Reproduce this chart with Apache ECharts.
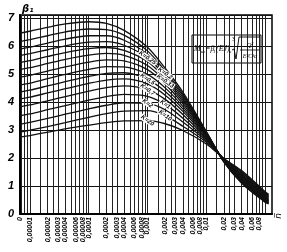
<!DOCTYPE html>
<html>
<head>
<meta charset="utf-8">
<script src="https://cdn.jsdelivr.net/npm/echarts@6/dist/echarts.min.js"></script>
<style>html,body{margin:0;padding:0;background:#fff}#main{width:287px;height:252px}</style>
</head>
<body>
<div id="main"></div>
<script>
// abscissa n (log scale), the left edge stands for 0
var xs = [6.77e-6, 1e-5, 2e-5, 4e-5, 1e-4, 2e-4, 4e-4, 1e-3, 2e-3, 4e-3, 1e-2, 2e-2, 4e-2, 1e-1, 0.115];

// beta1 curves, one per K
var b01  = [6.45, 6.52, 6.66, 6.78, 6.86, 6.8, 6.55, 5.95, 5.2, 4.35, 2.95, 1.85, 1.1, 0.42, 0.36];
var b015 = [6.15, 6.22, 6.36, 6.5, 6.6, 6.58, 6.38, 5.82, 5.1, 4.28, 2.93, 1.86, 1.13, 0.45, 0.38];
var b02  = [5.88, 5.95, 6.1, 6.24, 6.36, 6.36, 6.2, 5.7, 5.02, 4.22, 2.91, 1.87, 1.16, 0.47, 0.4];
var b025 = [5.65, 5.72, 5.86, 6.0, 6.13, 6.15, 6.02, 5.57, 4.93, 4.15, 2.89, 1.88, 1.19, 0.5, 0.42];
var b03  = [5.4, 5.47, 5.62, 5.76, 5.9, 5.94, 5.84, 5.44, 4.84, 4.08, 2.87, 1.89, 1.22, 0.52, 0.44];
var b033 = [5.15, 5.22, 5.37, 5.52, 5.67, 5.73, 5.66, 5.3, 4.74, 4.01, 2.85, 1.9, 1.25, 0.55, 0.46];
var b04  = [4.88, 4.95, 5.1, 5.25, 5.42, 5.5, 5.46, 5.15, 4.63, 3.93, 2.83, 1.91, 1.28, 0.57, 0.48];
var b045 = [4.6, 4.67, 4.83, 4.98, 5.16, 5.26, 5.25, 4.98, 4.5, 3.84, 2.8, 1.92, 1.31, 0.6, 0.5];
var b05  = [4.35, 4.42, 4.57, 4.72, 4.91, 5.02, 5.04, 4.81, 4.37, 3.75, 2.77, 1.93, 1.34, 0.62, 0.53];
var b06  = [4.1, 4.17, 4.32, 4.47, 4.66, 4.78, 4.82, 4.64, 4.24, 3.66, 2.74, 1.94, 1.37, 0.65, 0.56];
var b07  = [3.82, 3.89, 4.04, 4.19, 4.38, 4.51, 4.57, 4.44, 4.09, 3.55, 2.7, 1.95, 1.4, 0.68, 0.59];
var b1   = [3.5, 3.57, 3.72, 3.87, 4.06, 4.19, 4.27, 4.2, 3.91, 3.42, 2.66, 1.96, 1.44, 0.71, 0.62];
var b2   = [3.2, 3.27, 3.41, 3.56, 3.75, 3.88, 3.97, 3.95, 3.72, 3.28, 2.61, 1.97, 1.48, 0.74, 0.65];
var b10  = [2.92, 2.99, 3.12, 3.26, 3.45, 3.58, 3.67, 3.69, 3.51, 3.13, 2.56, 1.97, 1.51, 0.77, 0.67];
var b20  = [2.75, 2.8, 2.92, 3.04, 3.17, 3.26, 3.32, 3.33, 3.22, 2.98, 2.5, 1.98, 1.55, 0.8, 0.7];

// curve captions (empty = no caption) and the point of the curve they sit on
var curveVals = [b01, b015, b02, b025, b03, b033, b04, b045, b05, b06, b07, b1, b2, b10, b20];
var curveTags = ['', '', '0,2', '0,25', '', '0,33', '', '', '0,5', '', '0,7', '1', '2', '10', '20'];
var tagAt     = [0, 0, 8, 7, 0, 8, 0, 0, 7, 0, 7, 8, 7, 8, 7];

// tick labels
var tickVals = [6.77e-6, 1e-5, 2e-5, 3e-5, 4e-5, 6e-5, 8e-5, 1e-4, 2e-4, 3e-4, 4e-4, 6e-4, 8e-4,
  1e-3, 2e-3, 3e-3, 4e-3, 6e-3, 8e-3, 1e-2, 2e-2, 3e-2, 4e-2, 6e-2, 8e-2, 0.1];
var tickText = ['0', '0,00001', '0,00002', '0,00003', '0,00004', '0,00006', '0,00008', '0,0001',
  '0,0002', '0,0003', '0,0004', '0,0006', '0,0008', '0,001', '0,002', '0,003', '0,004', '0,006',
  '0,008', '0,01', '0,02', '0,03', '0,04', '0,06', '0,08', '0,1'];

// vertical grid lines
var gridVals = [7e-6, 8e-6, 9e-6];
[1e-5, 1e-4, 1e-3, 1e-2].forEach(function (d) {
  [1, 1.5, 2, 2.5, 3, 4, 5, 6, 7, 8, 9].forEach(function (m) { gridVals.push(m * d); });
});
gridVals.push(0.1);

var myChart = echarts.init(document.getElementById('main'));

var series = curveVals.map(function (v, i) {
  var s = {
    type: 'line',
    smooth: 0.3,
    showSymbol: false,
    silent: true,
    lineStyle: { color: '#111', width: 1.3 },
    data: xs.map(function (x, j) { return [x, v[j]]; })
  };
  if (curveTags[i]) {
    var j = tagAt[i];
    s.markPoint = {
      symbol: 'rect', symbolSize: 1,
      itemStyle: { color: 'rgba(0,0,0,0)' },
      data: [{ coord: [xs[j], v[j]] }],
      label: {
        show: true, position: 'inside', rotate: -35,
        formatter: 'K\u0305=' + curveTags[i],
        fontSize: 6, fontStyle: 'italic', fontWeight: 'bold', color: '#000',
        fontFamily: 'Liberation Sans', backgroundColor: '#fff', padding: [0, 1]
      }
    };
  }
  return s;
});

option = {
  animation: false,
  backgroundColor: '#fff',
  grid: { left: 20, right: 15, top: 15, bottom: 38, show: true, borderColor: '#000', borderWidth: 1.5 },
  xAxis: {
    type: 'log', logBase: 10, min: 6.77e-6, max: 0.1315,
    axisLine: { show: true, lineStyle: { color: '#000', width: 2 } },
    axisTick: { show: false, customValues: gridVals },
    splitLine: { show: true, lineStyle: { color: '#222', width: 1 } },
    axisLabel: {
      customValues: tickVals, rotate: 90, margin: 3,
      fontSize: 7, fontStyle: 'italic', fontWeight: 'bold', color: '#000', fontFamily: 'Liberation Sans',
      formatter: function (val) {
        var best = 0, bd = 1e9;
        tickVals.forEach(function (t, k) {
          var d = Math.abs(Math.log(t) - Math.log(val));
          if (d < bd) { bd = d; best = k; }
        });
        return tickText[best];
      }
    }
  },
  yAxis: {
    type: 'value', min: 0, max: 7.1, interval: 1,
    axisLine: { show: true, lineStyle: { color: '#000', width: 2 } },
    axisTick: { show: false },
    splitLine: { show: true, lineStyle: { color: '#111', width: 1.2 } },
    axisLabel: {
      margin: 6, fontSize: 11, fontStyle: 'italic', fontWeight: 'bold', color: '#000', fontFamily: 'Liberation Sans',
      formatter: function (v) { return v > 7 ? '' : v; }
    }
  },
  series: series,
  graphic: [
    { type: 'text', left: 22, top: 4, style: { text: '\u03b2\u2081', fontSize: 10, fontStyle: 'italic', fontWeight: 'bold', fill: '#000', fontFamily: 'DejaVu Sans' } },
    { type: 'text', x: 279, y: 216, rotation: Math.PI / 2, style: { text: 'n\u0305', fontSize: 9, fontStyle: 'italic', fill: '#000', fontFamily: 'DejaVu Sans', align: 'center', verticalAlign: 'middle' } },
    { type: 'rect', shape: { x: 192, y: 35, width: 69, height: 28 }, style: { fill: '#fff', stroke: '#000', lineWidth: 1 } },
    { type: 'text', x: 194, y: 49, z: 10, style: { text: 'M', fontSize: 8, fontStyle: 'italic', fill: '#000', fontFamily: 'Liberation Serif', verticalAlign: 'middle' } },
    { type: 'text', x: 201, y: 52, z: 10, style: { text: '\u0448', fontSize: 5, fontStyle: 'italic', fill: '#000', fontFamily: 'Liberation Serif', verticalAlign: 'middle' } },
    { type: 'text', x: 205, y: 49, z: 10, style: { text: '=\u03b2', fontSize: 8, fontStyle: 'italic', fill: '#000', fontFamily: 'Liberation Serif', verticalAlign: 'middle' } },
    { type: 'text', x: 213, y: 52, z: 10, style: { text: '1', fontSize: 5, fontStyle: 'italic', fill: '#000', fontFamily: 'Liberation Serif', verticalAlign: 'middle' } },
    { type: 'text', x: 216, y: 49, z: 10, style: { text: '(EJ)', fontSize: 8, fontStyle: 'italic', fill: '#000', fontFamily: 'Liberation Serif', verticalAlign: 'middle' } },
    { type: 'text', x: 229, y: 52, z: 10, style: { text: '\u043a', fontSize: 5, fontStyle: 'italic', fill: '#000', fontFamily: 'Liberation Serif', verticalAlign: 'middle' } },
    { type: 'polyline', z: 10, shape: { points: [[232, 50], [234, 49], [236, 59], [239, 37], [260, 37]] }, style: { stroke: '#000', lineWidth: 0.9, fill: null } },
    { type: 'text', x: 232, y: 40, z: 10, style: { text: '3', fontSize: 5.5, fill: '#000', fontFamily: 'Liberation Serif', verticalAlign: 'middle' } },
    { type: 'line', z: 10, shape: { x1: 240, y1: 50, x2: 259, y2: 50 }, style: { stroke: '#000', lineWidth: 0.8 } },
    { type: 'text', x: 250, y: 45, z: 10, style: { text: 'Q\u00b2', fontSize: 6.5, fontStyle: 'italic', fill: '#000', fontFamily: 'Liberation Serif', align: 'center', verticalAlign: 'middle' } },
    { type: 'text', x: 250, y: 56, z: 10, style: { text: 'E\u00b2C\u00b2\u03b1', fontSize: 6, fontStyle: 'italic', fill: '#000', fontFamily: 'Liberation Serif', align: 'center', verticalAlign: 'middle' } }
  ]
};

myChart.setOption(option);
</script>
</body>
</html>
